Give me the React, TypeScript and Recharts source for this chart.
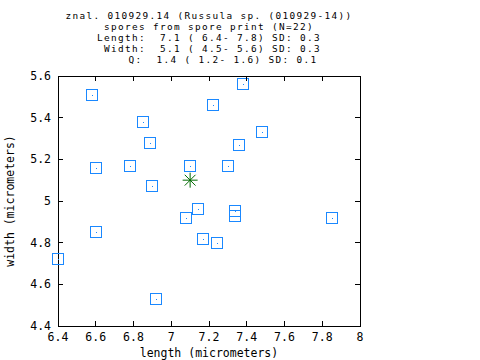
import React from "react";
import {
  ScatterChart,
  Scatter,
  XAxis,
  YAxis,
  ReferenceArea,
} from "recharts";

const titleLines = [
  "znal. 010929.14 (Russula sp. (010929-14))",
  "spores from spore print (N=22)",
  "Length:  7.1 ( 6.4- 7.8) SD: 0.3",
  " Width:  5.1 ( 4.5- 5.6) SD: 0.3",
  "    Q:  1.4 ( 1.2- 1.6) SD: 0.1",
];

const lengths = [
  6.58, 7.22, 6.85, 6.89, 6.6, 6.78, 7.1, 6.9, 7.38, 7.48, 7.36,
  7.3, 6.6, 6.4, 6.92, 7.08, 7.14, 7.17, 7.24, 7.34, 7.34, 7.85,
];
const widths = [
  5.51, 5.46, 5.38, 5.28, 5.16, 5.17, 5.17, 5.07, 5.56, 5.33, 5.27,
  5.17, 4.85, 4.72, 4.53, 4.92, 4.96, 4.82, 4.8, 4.95, 4.93, 4.92,
];
const meanLength = 7.1;
const meanWidth = 5.1;

const xTicks = [6.4, 6.6, 6.8, 7, 7.2, 7.4, 7.6, 7.8, 8];
const yTicks = [4.4, 4.6, 4.8, 5, 5.2, 5.4, 5.6];

const spores = lengths.map((x, i) => ({ x, y: widths[i] }));
const mean = [{ x: meanLength, y: meanWidth }];

// plot box in pixels
const LEFT = 58;
const RIGHT = 360;
const TOP = 76;
const BOTTOM = 326;
const FONT = "'DejaVu Sans Mono', monospace";
const BLUE = "#1a88ff";

function XTick(props: any) {
  const { x, payload } = props;
  return (
    <g>
      <line x1={x} x2={x} y1={BOTTOM} y2={BOTTOM - 5} stroke="#000" shapeRendering="crispEdges" />
      <line x1={x} x2={x} y1={TOP} y2={TOP + 5} stroke="#000" shapeRendering="crispEdges" />
      <text x={x} y={BOTTOM + 15} textAnchor="middle" fontFamily={FONT} fontSize={11.5} fill="#000">
        {String(payload.value)}
      </text>
    </g>
  );
}

function YTick(props: any) {
  const { y, payload } = props;
  return (
    <g>
      <line x1={LEFT} x2={LEFT + 5} y1={y} y2={y} stroke="#000" shapeRendering="crispEdges" />
      <line x1={RIGHT} x2={RIGHT - 5} y1={y} y2={y} stroke="#000" shapeRendering="crispEdges" />
      <text x={LEFT - 7} y={y + 4} textAnchor="end" fontFamily={FONT} fontSize={11.5} fill="#000">
        {String(payload.value)}
      </text>
    </g>
  );
}

function Square(props: any) {
  const { cx, cy } = props;
  const x = Math.round(cx);
  const y = Math.round(cy);
  return (
    <g>
      <rect x={x - 5.5} y={y - 5.5} width={11} height={11} fill="none" stroke={BLUE} strokeWidth={1} />
      <rect x={x} y={y} width={1} height={1} fill={BLUE} />
    </g>
  );
}

function Star(props: any) {
  const { cx, cy } = props;
  const r = 7.5;
  const d = r * 0.72;
  return (
    <g stroke="#006a00" strokeWidth={1}>
      <line x1={cx - r} x2={cx + r} y1={cy} y2={cy} />
      <line x1={cx} x2={cx} y1={cy - r} y2={cy + r} />
      <line x1={cx - d} x2={cx + d} y1={cy - d} y2={cy + d} />
      <line x1={cx - d} x2={cx + d} y1={cy + d} y2={cy - d} />
    </g>
  );
}

export default function App() {
  return (
    <div style={{ position: "absolute", left: 0, top: 0, width: 480, height: 360, background: "#fff" }}>
      <ScatterChart
        width={480}
        height={360}
        margin={{ top: TOP, right: 480 - RIGHT, bottom: 4, left: 8 }}
      >
        <XAxis
          type="number"
          dataKey="x"
          domain={[6.4, 8]}
          ticks={xTicks}
          height={30}
          axisLine={false}
          tickLine={false}
          tick={(p: any) => <XTick {...p} />}
        />
        <YAxis
          type="number"
          dataKey="y"
          domain={[4.4, 5.6]}
          ticks={yTicks}
          width={50}
          axisLine={false}
          tickLine={false}
          tick={(p: any) => <YTick {...p} />}
        />
        <ReferenceArea
          x1={6.4}
          x2={8}
          y1={4.4}
          y2={5.6}
          fill="none"
          stroke="#000"
          strokeWidth={1}
          fillOpacity={0}
          shapeRendering="crispEdges"
        />
        <Scatter
          data={spores}
          isAnimationActive={false}
          shape={(p: any) => <Square {...p} />}
        />
        <Scatter
          data={mean}
          isAnimationActive={false}
          shape={(p: any) => <Star {...p} />}
        />
      </ScatterChart>
      <svg
        width={480}
        height={360}
        style={{ position: "absolute", left: 0, top: 0, pointerEvents: "none" }}
      >
        {titleLines.map((line, i) => (
          <text
            key={i}
            x={(LEFT + RIGHT) / 2}
            y={19 + i * 11}
            textAnchor="middle"
            fontFamily={FONT}
            fontSize={9.4}
            letterSpacing={1.35}
            style={{ whiteSpace: "pre" }}
          >
            {line}
          </text>
        ))}
        <text
          x={(LEFT + RIGHT) / 2}
          y={357}
          textAnchor="middle"
          fontFamily={FONT}
          fontSize={11.5}
        >
          length (micrometers)
        </text>
        <text
          x={14}
          y={(TOP + BOTTOM) / 2}
          textAnchor="middle"
          fontFamily={FONT}
          fontSize={11.5}
          transform={`rotate(-90 14 ${(TOP + BOTTOM) / 2})`}
        >
          width (micrometers)
        </text>
      </svg>
    </div>
  );
}
